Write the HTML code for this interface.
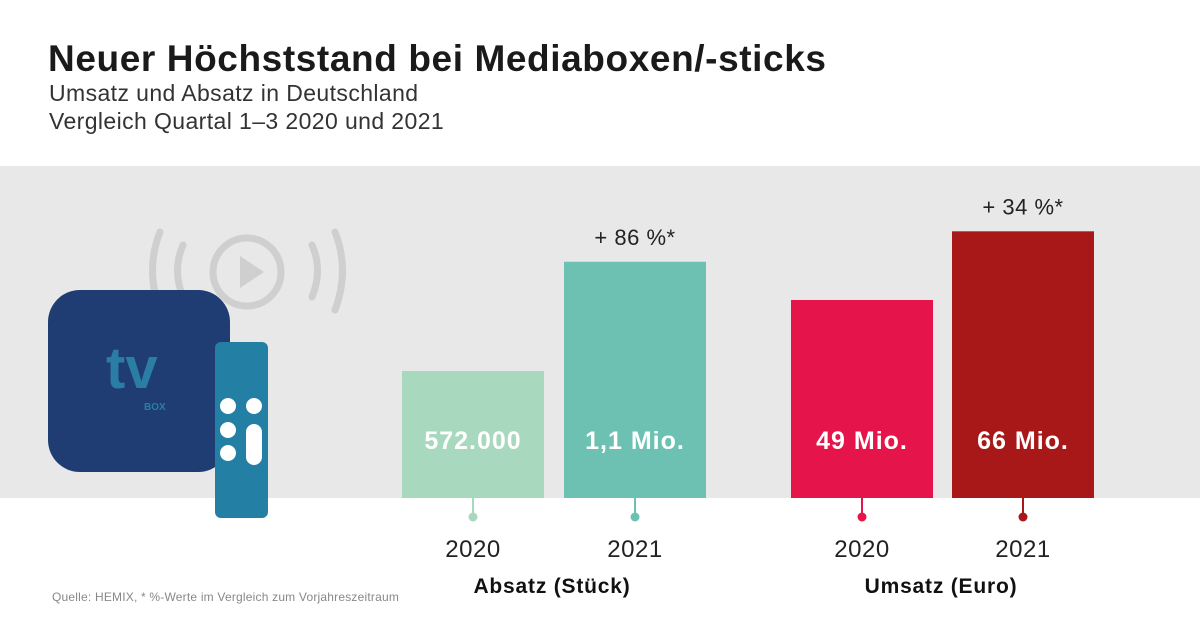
<!DOCTYPE html>
<html><head><meta charset="utf-8">
<style>
body{margin:0;width:1200px;height:630px;background:#fff;font-family:"Liberation Sans",sans-serif;overflow:hidden;position:relative}
.t{position:absolute;white-space:nowrap}
</style></head>
<body>
<div class="t" style="left:48px;top:38px;font-size:37px;letter-spacing:0.6px;font-weight:bold;color:#1a1a1a">Neuer Höchststand bei Mediaboxen/-sticks</div>
<div class="t" style="left:49px;top:80px;font-size:23px;letter-spacing:0.4px;color:#333">Umsatz und Absatz in Deutschland</div>
<div class="t" style="left:49px;top:108px;font-size:23px;letter-spacing:0.4px;color:#333">Vergleich Quartal 1–3 2020 und 2021</div>
<svg id="chart" width="1200" height="630" style="position:absolute;left:0;top:0">
<rect x="0" y="166" width="1200" height="332" fill="#e8e8e8"/>
<g>
<g fill="none" stroke="#cfcfcf" stroke-width="7" stroke-linecap="round">
<path d="M160 232 Q145 270 160 310"/><path d="M183 245 Q172 270 183 297"/>
<path d="M335 232 Q350 270 335 310"/><path d="M312 245 Q323 270 312 297"/>
<circle cx="247" cy="272" r="34"/>
</g>
<polygon points="240,256 240,288 264,272" fill="#cfcfcf"/>
<rect x="48" y="290" width="182" height="182" rx="32" fill="#1f3d72"/>
<text x="106" y="388" font-size="58" font-weight="bold" fill="#2a7ea6" font-family="Liberation Sans,sans-serif">tv</text>
<text x="144" y="410" font-size="10" font-weight="bold" fill="#2a7ea6">BOX</text>
<rect x="215" y="342" width="53" height="176" rx="6" fill="#247fa4"/>
<g fill="#fff"><circle cx="228" cy="406" r="8"/><circle cx="254" cy="406" r="8"/><circle cx="228" cy="430" r="8"/><circle cx="228" cy="453" r="8"/><rect x="246" y="424" width="16" height="41" rx="8"/></g>
</g>
</svg>
<div class="t" style="left:52px;top:590px;font-size:12px;letter-spacing:0.2px;color:#888">Quelle: HEMIX, * %-Werte im Vergleich zum Vorjahreszeitraum</div>
<script>
const years=["2020","2021"];
const absatzValues=[572000,1064000];
const absatzLabels=["572.000","1,1 Mio."];
const umsatzValues=[49,66];
const umsatzLabels=["49 Mio.","66 Mio."];
const changeLabels=["+ 86 %*","+ 34 %*"];
const groupTitles=["Absatz (Stück)","Umsatz (Euro)"];
const base=498;
const yAbsatz=v=>base-v*(127/572000);
const yUmsatz=v=>base-v*(198/49);
const svg=document.getElementById('chart');
const NS="http://www.w3.org/2000/svg";
function mk(tag,attrs,txt){const e=document.createElementNS(NS,tag);for(const k in attrs)e.setAttribute(k,attrs[k]);if(txt!==undefined)e.textContent=txt;svg.appendChild(e);return e;}
const groups=[
 {vals:absatzValues,labels:absatzLabels,y:yAbsatz,x:[402,564],colors:["#a8d8be","#6dc1b3"],title:groupTitles[0],change:changeLabels[0],cx:552},
 {vals:umsatzValues,labels:umsatzLabels,y:yUmsatz,x:[791,952],colors:["#e5154b","#a81818"],title:groupTitles[1],change:changeLabels[1],cx:941}
];
groups.forEach((g,gi)=>{
 g.vals.forEach((v,i)=>{
  const top=g.y(v), x=g.x[i], cx=x+71;
  const r=mk('rect',{x:x,y:top,width:142,height:base-top,fill:g.colors[i]});
  
  
  const l=mk('line',{x1:cx,y1:base,x2:cx,y2:517,stroke:g.colors[i],'stroke-width':2});
  
  
  const d=mk('circle',{cx:cx,cy:517,r:4.5,fill:g.colors[i]});
  
  
  const vt=mk('text',{x:cx,y:449,'text-anchor':'middle','font-size':25,'letter-spacing':1,'font-weight':'bold',fill:'#fff'},g.labels[i]);
  
  
  const yt=mk('text',{x:cx,y:557,'text-anchor':'middle','font-size':24,'letter-spacing':0.5,fill:'#222'},years[i]);
  
  
  if(i===1){
   const ct=mk('text',{x:cx,y:top-17,'text-anchor':'middle','font-size':22,'letter-spacing':0.5,fill:'#222'},g.change);
   
   
  }
 });
 const gt=mk('text',{x:g.cx,y:593,'text-anchor':'middle','font-size':21,'letter-spacing':0.8,'font-weight':'bold',fill:'#111'},g.title);
 
 
});
</script>
</body></html>
